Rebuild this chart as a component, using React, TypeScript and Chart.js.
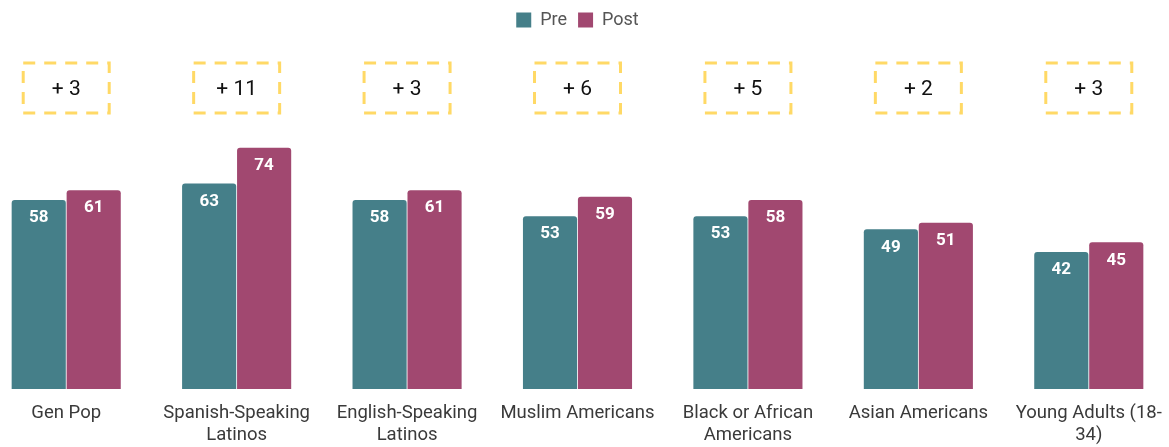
import React, { useEffect, useRef } from "react";
import { Chart, registerables } from "chart.js";

Chart.register(...registerables);

const categories: string[][] = [
  ["Gen Pop"],
  ["Spanish-Speaking", "Latinos"],
  ["English-Speaking", "Latinos"],
  ["Muslim Americans"],
  ["Black or African", "Americans"],
  ["Asian Americans"],
  ["Young Adults (18-", "34)"],
];
const preValues = [58, 63, 58, 53, 53, 49, 42];
const postValues = [61, 74, 61, 59, 58, 51, 45];
const changeLabels = ["+ 3", "+ 11", "+ 3", "+ 6", "+ 5", "+ 2", "+ 3"];

const PRE_COLOR = "#457F89";
const POST_COLOR = "#A14870";

const legendMarginPlugin = {
  id: "legendMargin",
  beforeInit(chart: any) {
    const legend = chart.legend;
    if (!legend) return;
    const orig = legend.fit;
    legend.fit = function () {
      orig.bind(legend)();
      this.height += 24;
    };
  },
};

const valueLabelPlugin = {
  id: "valueLabels",
  afterDatasetsDraw(chart: any) {
    const ctx = chart.ctx;
    ctx.save();
    ctx.fillStyle = "#ffffff";
    ctx.font = "bold 17px Roboto";
    ctx.textAlign = "center";
    ctx.textBaseline = "middle";
    chart.data.datasets.forEach((ds: any, i: number) => {
      const meta = chart.getDatasetMeta(i);
      meta.data.forEach((bar: any, j: number) => {
        ctx.fillText(String(ds.data[j]), bar.x, bar.y + 18);
      });
    });
    ctx.restore();
  },
};

const changeBoxPlugin = {
  id: "changeBoxes",
  afterDraw(chart: any) {
    const ctx = chart.ctx;
    const xScale = chart.scales.x;
    const top = chart.chartArea.top;
    ctx.save();
    changeLabels.forEach((lbl, i) => {
      const cx = xScale.getPixelForValue(i);
      const w = 86;
      const h = 50;
      ctx.setLineDash([12, 9]);
      ctx.lineWidth = 3;
      ctx.strokeStyle = "#FFD966";
      ctx.strokeRect(cx - w / 2, top, w, h);
      ctx.setLineDash([]);
      ctx.fillStyle = "#111111";
      ctx.font = "21px Roboto";
      ctx.textAlign = "center";
      ctx.textBaseline = "middle";
      ctx.fillText(lbl, cx, top + h / 2 + 2);
    });
    ctx.restore();
  },
};

export default function App() {
  const ref = useRef<HTMLCanvasElement | null>(null);
  useEffect(() => {
    if (!ref.current) return;
    const chart = new Chart(ref.current, {
      type: "bar",
      data: {
        labels: categories,
        datasets: [
          {
            label: "Pre",
            data: preValues,
            backgroundColor: PRE_COLOR,
            borderRadius: { topLeft: 3, topRight: 3, bottomLeft: 0, bottomRight: 0 },
            borderSkipped: false,
            categoryPercentage: 0.645,
            barPercentage: 0.985,
          },
          {
            label: "Post",
            data: postValues,
            backgroundColor: POST_COLOR,
            borderRadius: { topLeft: 3, topRight: 3, bottomLeft: 0, bottomRight: 0 },
            borderSkipped: false,
            categoryPercentage: 0.645,
            barPercentage: 0.985,
          },
        ],
      },
      options: {
        responsive: false,
        animation: false,
        layout: { padding: { top: 0, bottom: 0, left: 0, right: 0 } },
        plugins: {
          legend: {
            display: true,
            position: "top",
            labels: {
              boxWidth: 15,
              boxHeight: 15,
              padding: 11,
              color: "#555555",
              font: { family: "Roboto", size: 18 },
            },
          },
          tooltip: { enabled: false },
        },
        scales: {
          x: {
            grid: { display: false },
            border: { display: false },
            ticks: {
              color: "#3a3a3a",
              font: { family: "Roboto", size: 18.5, lineHeight: 1.22 },
              padding: 5,
              maxRotation: 0,
              autoSkip: false,
            },
            afterFit(scale: any) {
              scale.height = 58;
            },
          },
          y: {
            display: false,
            min: 0,
            max: 100,
          },
        },
      },
      plugins: [legendMarginPlugin, valueLabelPlugin, changeBoxPlugin],
    });
    return () => chart.destroy();
  }, []);
  return (
    <div style={{ position: "fixed", left: -19, top: 0, width: 1193, height: 447, background: "#fff" }}>
      <canvas ref={ref} width={1193} height={447} />
    </div>
  );
}
